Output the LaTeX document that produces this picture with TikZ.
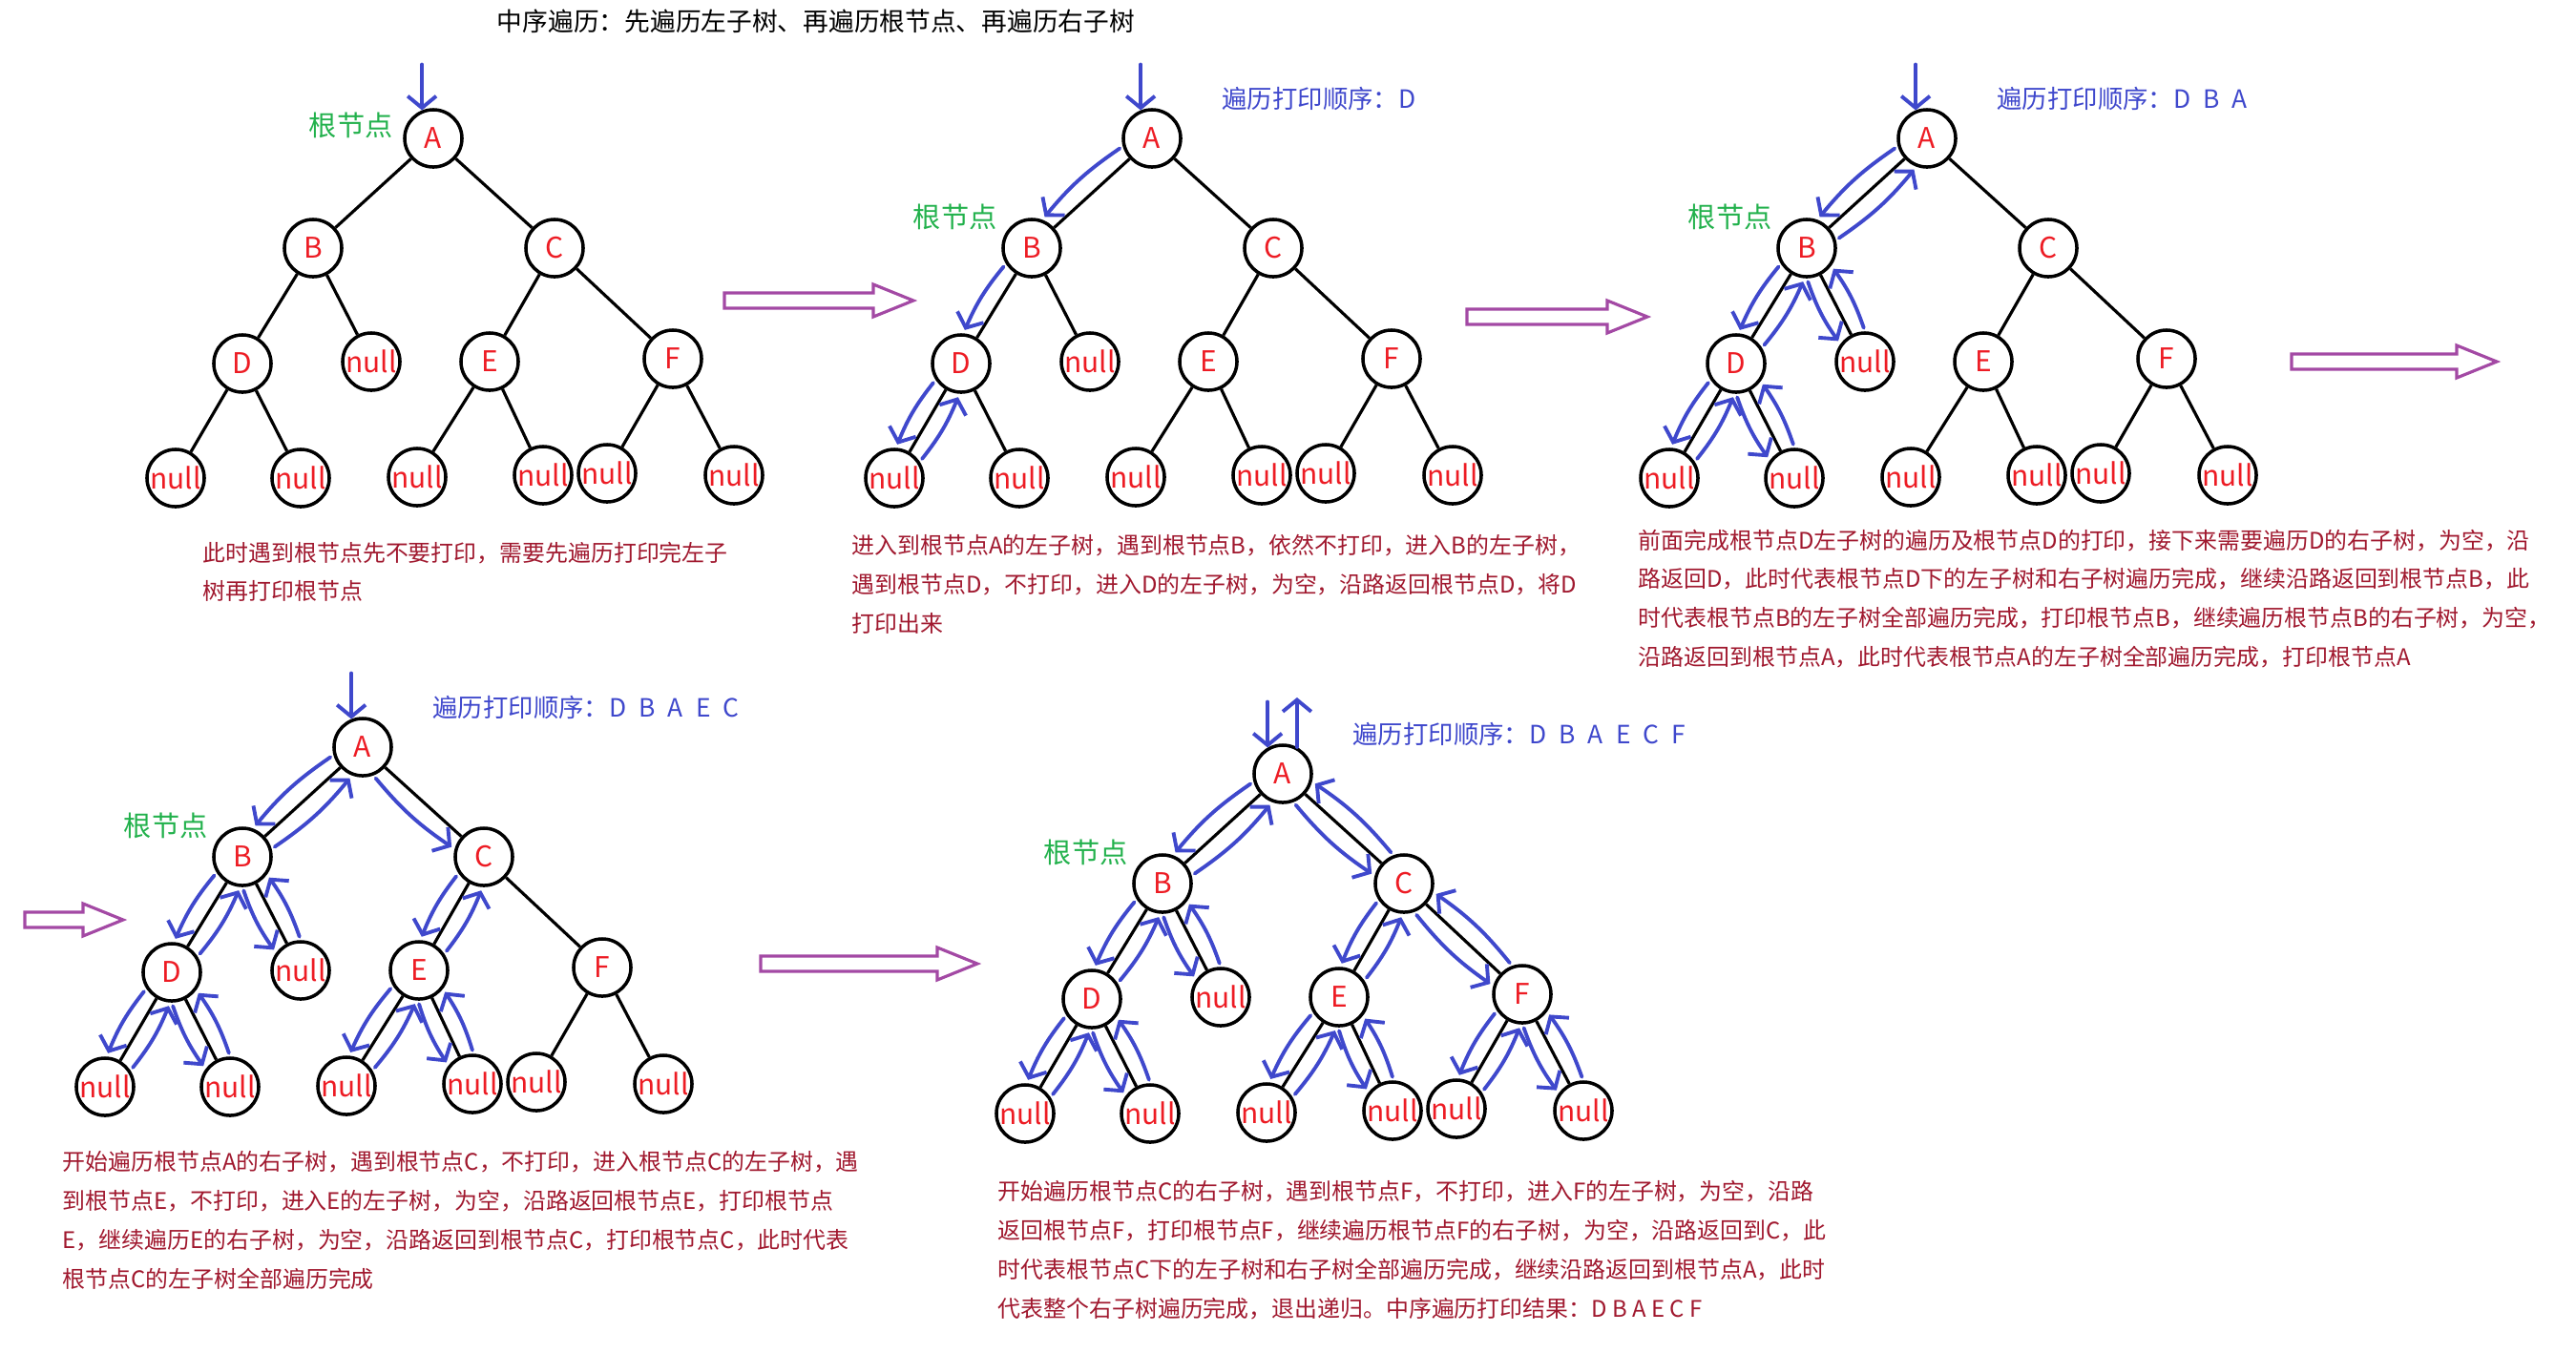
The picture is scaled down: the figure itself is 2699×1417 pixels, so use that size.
\documentclass[tikz,border=0pt]{standalone}
\usepackage{fontspec}
\setmainfont{Noto Sans CJK SC}
\usetikzlibrary{positioning,calc,arrows.meta}

\definecolor{travBlue}{HTML}{3F48CC}
\definecolor{travRed}{HTML}{ED1C24}
\definecolor{travNote}{HTML}{A0182E}
\definecolor{travGreen}{HTML}{22B14C}
\definecolor{travPurple}{HTML}{A349A4}

\tikzset{
  treenode/.style={circle,draw,line width=1pt,minimum size=0.6cm,inner sep=0pt,
    text=travRed,font=\fontsize{8.5}{10}\selectfont},
  treeedge/.style={line width=0.9pt},
  walkline/.style={travBlue,line width=1.1pt,line cap=round,
    -{Straight Barb[length=3.5pt,width=8.5pt]}},
  rootlabel/.style={text=travGreen,font=\fontsize{8.3}{10}\selectfont,inner sep=0pt},
  orderlabel/.style={text=travBlue,font=\fontsize{7.5}{10}\selectfont,inner sep=0pt},
  note/.style={text=travNote,font=\fontsize{6.8}{11.6}\selectfont,align=left,
    anchor=north west,inner sep=0pt},
  stepshape/.style={draw=travPurple,line width=0.9pt}
}

\newcommand{\gap}{\hspace{0.5em}}

% one copy of the tree: #1 = name prefix, (#2,#3) = root
\newcommand{\bintree}[3]{%
  \begin{scope}[shift={(#2,#3)}]
    \foreach \n/\x/\y/\t in {A/0/0/A, B/-126/115/B, C/127/115/C,
        D/-200/236/D, nB/-65/234/null, E/59/234/E, F/251/231/F,
        nD1/-270/356/null, nD2/-139/356/null, nE1/-17/355/null,
        nE2/115/353/null, nF1/182/351/null, nF2/315/353/null}
      \node[treenode] (#1\n) at (\x,\y) {\t};
  \end{scope}
  \foreach \p/\c in {A/B, A/C, B/D, B/nB, C/E, C/F, D/nD1, D/nD2,
      E/nE1, E/nE2, F/nF1, F/nF2}
    \draw[treeedge] (#1\p) -- (#1\c);
}

% blue stroke beside an edge, on the right of the way it goes
\newcommand{\walk}[2]{%
  \draw[walkline] ($(#1)!0.32cm!(#2)!0.15cm!-90:(#2)$)
    to[bend right=8] ($(#2)!0.32cm!(#1)!0.15cm!90:(#1)$);}

% hollow purple arrow from x=#1 to x=#2 at height #3
\newcommand{\bigstep}[3]{%
  \draw[stepshape] (#1,#3-8) -- (#2-42,#3-8) -- (#2-42,#3-17) -- (#2,#3)
    -- (#2-42,#3+17) -- (#2-42,#3+8) -- (#1,#3+8) -- cycle;}

\def\leftpart{A/B, B/D, D/nD1, nD1/D, D/nD2, nD2/D, D/B, B/nB, nB/B, B/A}
\def\midpart{A/C, C/E, E/nE1, nE1/E, E/nE2, nE2/E, E/C}
\def\rightpart{C/F, F/nF1, nF1/F, F/nF2, nF2/F, F/C, C/A}

\begin{document}
\begin{tikzpicture}[x=0.01cm,y=-0.01cm]
  \useasboundingbox (0,0) rectangle (2699,1417);

  \node[font=\fontsize{7.6}{10}\selectfont] (title) at (855,22)
    {中序遍历：先遍历左子树、再遍历根节点、再遍历右子树};

  \bintree{t1}{454}{145}
  \bintree{t2}{1207}{145}
  \bintree{t3}{2019}{145}
  \bintree{t4}{380}{783}
  \bintree{t5}{1344}{811}

  % labels
  \node[rootlabel, left=0.1cm of t1A, yshift=0.14cm] (root1) {根节点};
  \node[rootlabel, left=0.04cm of t2B, yshift=0.33cm] (root2) {根节点};
  \node[rootlabel, left=0.04cm of t3B, yshift=0.33cm] (root3) {根节点};
  \node[rootlabel, left=0.04cm of t4B, yshift=0.33cm] (root4) {根节点};
  \node[rootlabel, left=0.04cm of t5B, yshift=0.33cm] (root5) {根节点};

  \node[orderlabel, right=0.41cm of t2A, yshift=0.42cm] (order2) {遍历打印顺序：D};
  \node[orderlabel, right=0.41cm of t3A, yshift=0.42cm] (order3) {遍历打印顺序：D\gap B\gap A};
  \node[orderlabel, right=0.41cm of t4A, yshift=0.42cm] (order4) {遍历打印顺序：D\gap B\gap A\gap E\gap C};
  \node[orderlabel, right=0.41cm of t5A, yshift=0.42cm] (order5) {遍历打印顺序：D\gap B\gap A\gap E\gap C\gap F};

  % way in and out
  \foreach \k/\a in {1/112, 2/112, 3/112, 4/112, 5/120} {
    \coordinate (in\k) at ($(t\k A.\a)+(0,-48)$);
    \draw[walkline] (in\k) -- (t\k A.\a);
  }
  \coordinate (out5) at ($(t5A.62)+(0,-52)$);
  \draw[walkline] (t5A.62) -- (out5);

  % walks
  \foreach \p/\c in {A/B, B/D, D/nD1, nD1/D} \walk{t2\p}{t2\c};
  \foreach \p/\c in \leftpart \walk{t3\p}{t3\c};
  \foreach \p/\c in \leftpart \walk{t4\p}{t4\c};
  \foreach \p/\c in \midpart \walk{t4\p}{t4\c};
  \foreach \p/\c in \leftpart \walk{t5\p}{t5\c};
  \foreach \p/\c in \midpart \walk{t5\p}{t5\c};
  \foreach \p/\c in \rightpart \walk{t5\p}{t5\c};

  \bigstep{759}{957}{315}
  \bigstep{1537}{1726}{332}
  \bigstep{2401}{2616}{379}
  \bigstep{26}{129}{964}
  \bigstep{797}{1024}{1010}

  % notes
  \node[note] (note1) at (212,567) {此时遇到根节点先不要打印，需要先遍历打印完左子\\树再打印根节点};
  \node[note] (note2) at (892,560) {进入到根节点A的左子树，遇到根节点B，依然不打印，进入B的左子树，\\遇到根节点D，不打印，进入D的左子树，为空，沿路返回根节点D，将D\\打印出来};
  \node[note] (note3) at (1716,554) {前面完成根节点D左子树的遍历及根节点D的打印，接下来需要遍历D的右子树，为空，沿\\路返回D，此时代表根节点D下的左子树和右子树遍历完成，继续沿路返回到根节点B，此\\时代表根节点B的左子树全部遍历完成，打印根节点B，继续遍历根节点B的右子树，为空，\\沿路返回到根节点A，此时代表根节点A的左子树全部遍历完成，打印根节点A};
  \node[note] (note4) at (65,1206) {开始遍历根节点A的右子树，遇到根节点C，不打印，进入根节点C的左子树，遇\\到根节点E，不打印，进入E的左子树，为空，沿路返回根节点E，打印根节点\\E，继续遍历E的右子树，为空，沿路返回到根节点C，打印根节点C，此时代表\\根节点C的左子树全部遍历完成};
  \node[note] (note5) at (1045,1237) {开始遍历根节点C的右子树，遇到根节点F，不打印，进入F的左子树，为空，沿路\\返回根节点F，打印根节点F，继续遍历根节点F的右子树，为空，沿路返回到C，此\\时代表根节点C下的左子树和右子树全部遍历完成，继续沿路返回到根节点A，此时\\代表整个右子树遍历完成，退出递归。中序遍历打印结果：D B A E C F};
\end{tikzpicture}
\end{document}
